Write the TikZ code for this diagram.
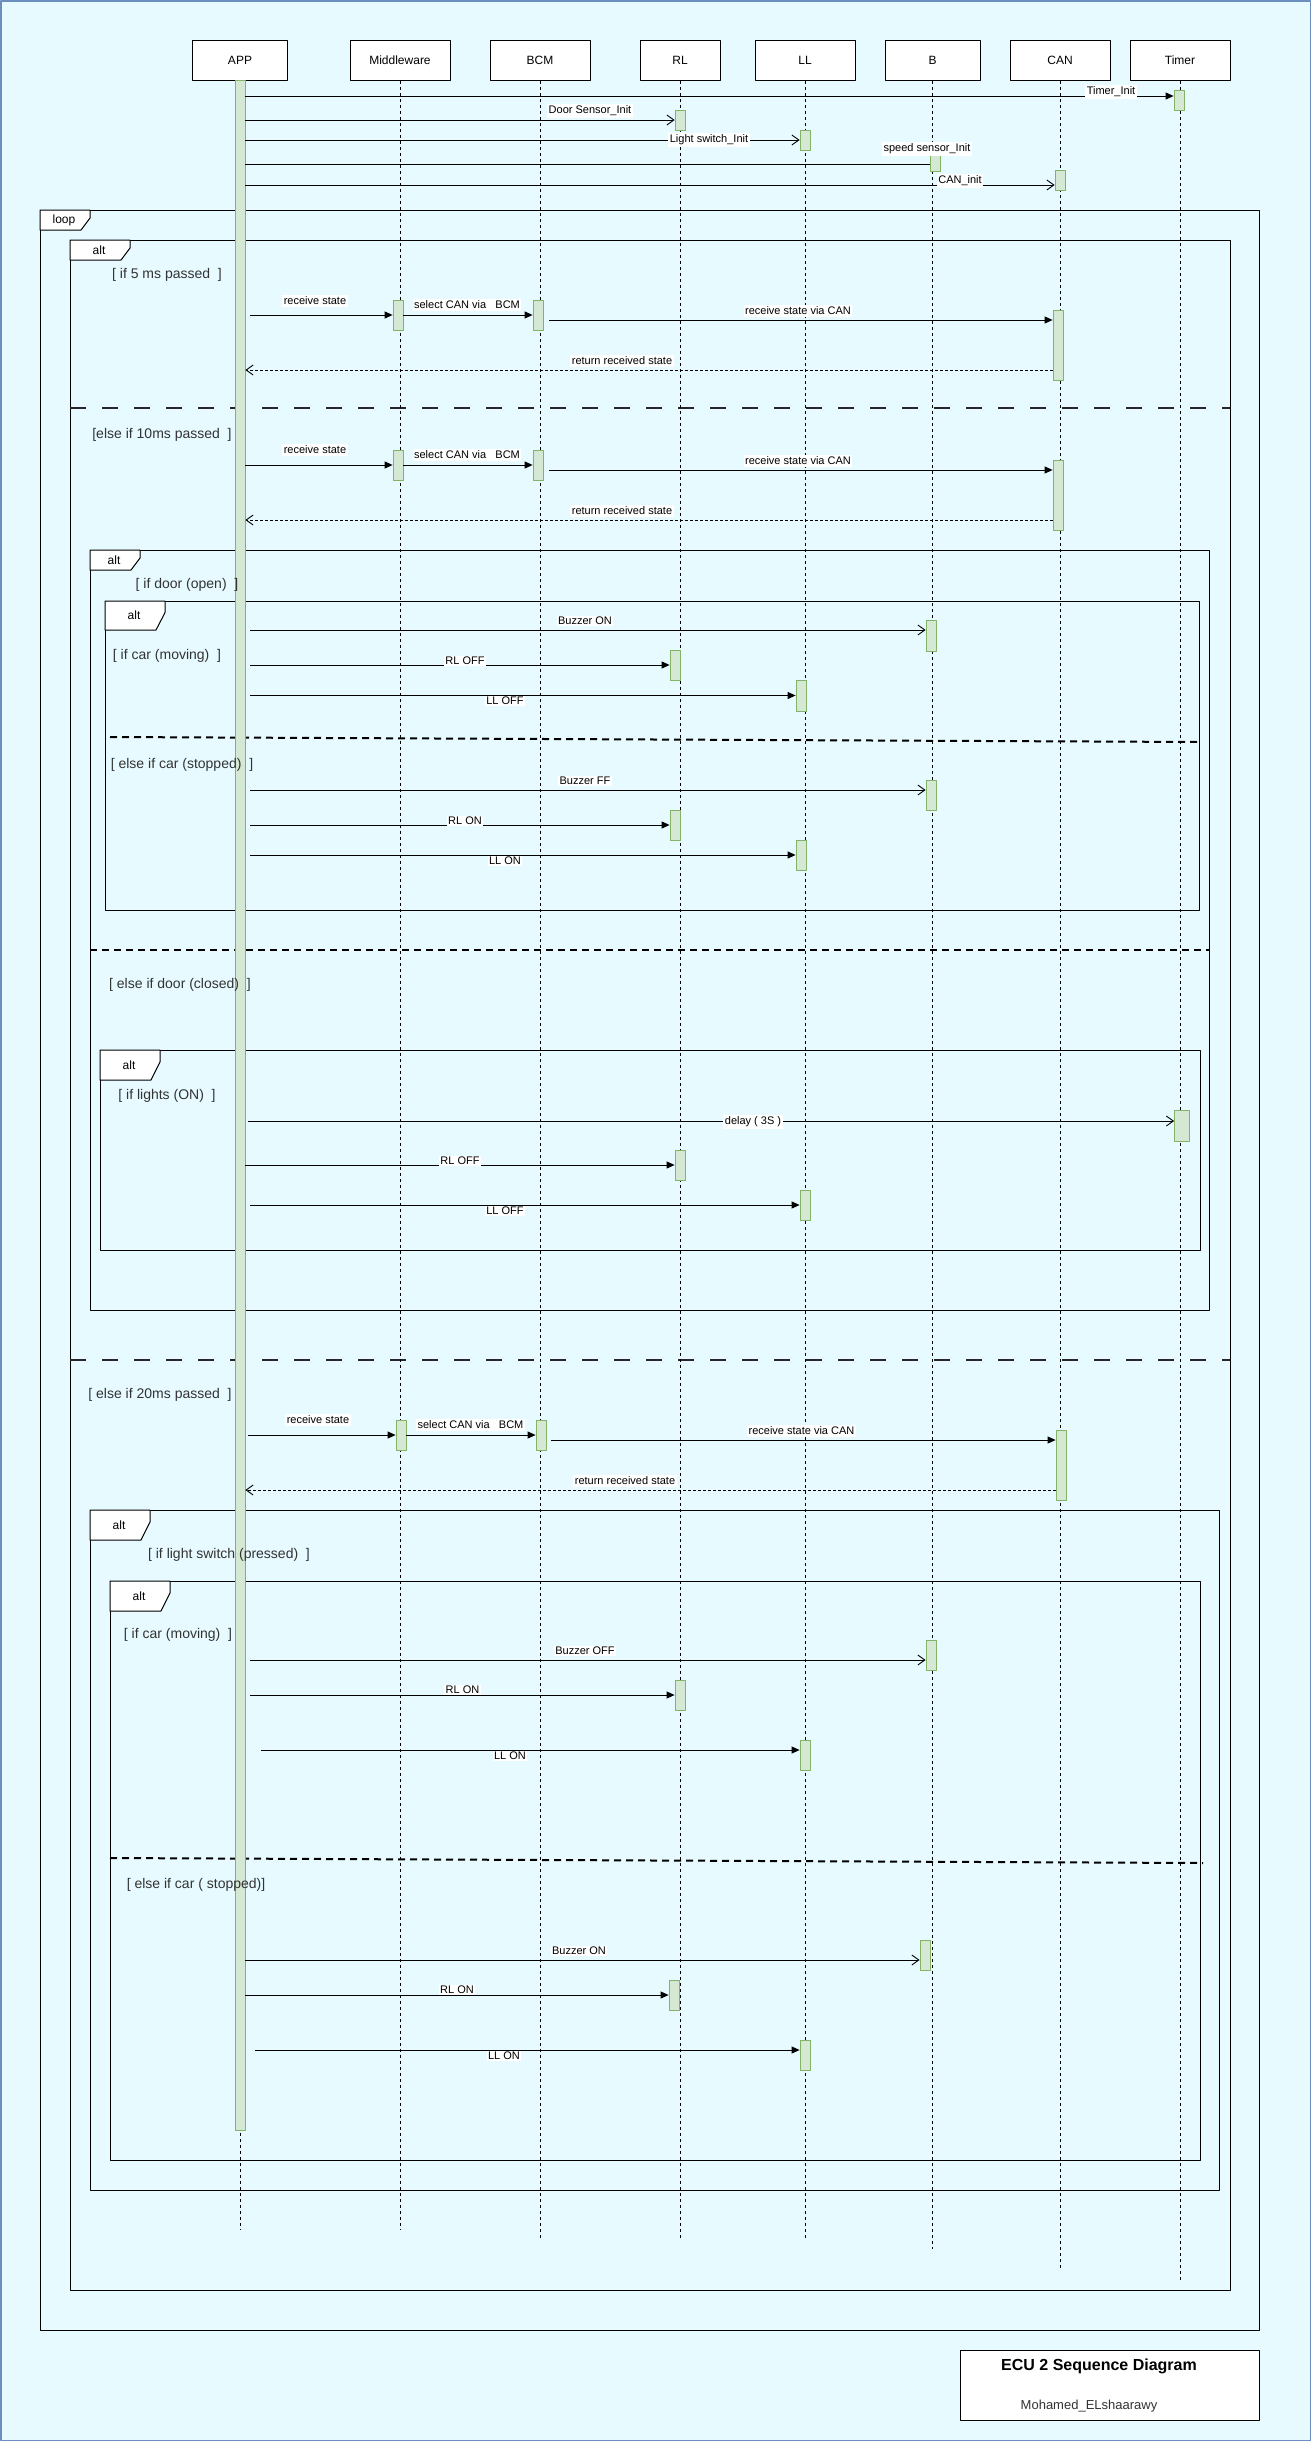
\documentclass[tikz,border=0pt]{standalone}
\usepackage{fontspec}
\setmainfont{Liberation Sans}
\usetikzlibrary{arrows.meta}

\definecolor{bgcyan}{RGB}{230,250,255}
\definecolor{bgedge}{RGB}{108,142,191}
\definecolor{actfill}{RGB}{213,232,212}
\definecolor{actedge}{RGB}{130,179,102}
\definecolor{grdtext}{RGB}{51,51,51}

\begin{document}
\begin{tikzpicture}[
        x=1pt, y=-1pt,
        line join=round,
        part/.style={draw, fill=white, line width=1pt, minimum height=40pt, inner sep=0pt, font=\fontsize{12}{14}\selectfont},
        life/.style={line width=0.8pt, dash pattern=on 3pt off 3pt},
        act/.style={draw=actedge, fill=actfill, line width=0.8pt, minimum width=10pt, inner sep=0pt},
        msg/.style={line width=0.9pt, -{Triangle[length=8pt,width=7pt]}},
        omsg/.style={line width=0.9pt, -{Straight Barb[length=7pt,width=10pt]}},
        ret/.style={line width=0.9pt, dash pattern=on 3pt off 2pt, -{Straight Barb[length=7pt,width=10pt]}},
        lbl/.style={fill=white, inner sep=1.5pt, font=\fontsize{11}{13}\selectfont},
        grd/.style={text=grdtext, inner sep=0pt, font=\fontsize{14}{16}\selectfont},
        frm/.style={line width=1pt},
        bigsep/.style={line width=2.5pt, dash pattern=on 16pt off 16pt, black!85},
        smallsep/.style={line width=2pt, dash pattern=on 7pt off 5pt}
    ]
        % page
        \fill[bgcyan] (0,0) rectangle (1311,2441);
        \draw[bgedge, line width=1.5pt] (0.75,0.75) rectangle (1310.25,2440.25);
        \useasboundingbox (0,0) rectangle (1311,2441);

        % participants
        \foreach \n/\ft/\x/\w/\e in {app/APP/240/95/2230, mw/Middleware/400/100/2230, bcm/BCM/540/100/2238, rl/RL/680/80/2238, ll/LL/805/100/2238, bz/B/932.5/95/2249, can/CAN/1060/100/2268, tmr/Timer/1180/100/2280}{
            \node[part, minimum width=\w pt] (\n) at (\x,60) {\ft};
            \coordinate (\n e) at (\x,\e);
        }

        % frames
        \foreach \xa/\ya/\xb/\yb/\tw/\fh/\ft [count=\i] in {40/210/1259/2330/50/20/loop, 70/240/1230/2290/60/20/alt, 90/550/1209/1310/50/20/alt, 105/601/1199/910/60/29/alt, 100/1050/1200/1250/60/30/alt, 90/1510/1219/2190/60/30/alt, 110/1581/1200/2160/60/30/alt}{
            \draw[frm] (\xa,\ya) rectangle (\xb,\yb);
            \draw[frm, fill=white] (\xa,\ya) -- ++(\tw,0) -- ++(0,0.4*\fh) -- ++(-9,0.6*\fh) -- (\xa,\ya+\fh) -- cycle;
            \node[font=\fontsize{12}{14}\selectfont] (tab\i) at (\xa+\tw/2-1,\ya+\fh/2) {\ft};
        }

        \draw[bigsep] (70,408) -- (1230,408);
        \draw[bigsep] (70,1360) -- (1230,1360);
        \draw[smallsep] (110,737) -- (1201,742);
        \draw[smallsep] (90,950) -- (1209,950);
        \draw[smallsep] (110,1858) -- (1203,1863);

        % lifelines
        \foreach \n in {app,mw,bcm,rl,ll,bz,can,tmr}{
            \draw[life] (\n.south) -- (\n e);
        }

        % activations
        \node[act, minimum height=2050pt] (bar) at (240,1105) {};
        \foreach \n/\x/\y/\h in {t0/1179/100/20, rl0/680/120/20, ll0/805/140/20, b0/935/160.5/21, can0/1060/180.5/20,
            mw1/398/315/30, bcm1/538/315/30, can1/1058/345/70, mw2/398/465/30, bcm2/538/465/30, can2/1058/495/70,
            b1/931/635.5/31, rl1/675/665/30, ll1/801/695.5/31, b2/931/795/30, rl2/675/825/30, ll2/801/855/30,
            rl3/680/1165/30, ll3/805/1205/30, mw3/401/1435/30, bcm3/541/1435/30, can3/1061/1465/70,
            b3/931/1655/30, rl4/680/1695/30, ll4/805/1755/30, b4/925/1955/30, rl5/674/1995/30, ll5/805/2055/30}{
            \node[act, minimum height=\h pt] (\n) at (\x,\y) {};
        }
        \node[act, minimum width=15pt, minimum height=31pt] (t1) at (1182,1125.5) {};

        % init
        \draw[msg] (bar.east |- 0,96) -- (t0.west |- 0,96) node[lbl] (lb1) at (1111,92) {Timer\_Init};
        \draw[omsg] (bar.east |- rl0) -- (rl0.west) node[lbl] (lb2) at (590,111) {Door Sensor\_Init};
        \draw[omsg] (bar.east |- ll0) -- (ll0.west) node[lbl] (lb3) at (709,140) {Light switch\_Init};
        \draw[line width=0.9pt] (bar.east |- 0,164) -- (b0.west |- 0,164) node[lbl] (lb4) at (927,149) {speed sensor\_Init};
        \draw[omsg] (bar.east |- 0,185) -- (can0.west |- 0,185) node[lbl] (lb5) at (960,181) {CAN\_init};

        % 5 ms
        \node[grd] (g1) at (167,275) {[ if 5 ms passed\ \ ]};
        \draw[msg] (bar.east |- mw1) ++(5,0) -- (mw1.west) node[lbl] (lb6) at (315,301) {receive state};
        \draw[msg] (mw1.east) -- (bcm1.west) node[lbl] (lb7) at (467,305) {select CAN via\ \ \ BCM};
        \draw[msg] (bcm1.east |- 0,320) ++(6,0) -- (can1.west |- 0,320) node[lbl] (lb8) at (798,311) {receive state via CAN};
        \draw[ret] (can1.west |- 0,370) -- (bar.east |- 0,370) node[lbl] (lb9) at (622,361) {return received state};

        % 10 ms
        \node[grd] (g2) at (162,435) {[else if 10ms passed\ \ ]};
        \draw[msg] (bar.east |- mw2) -- (mw2.west) node[lbl] (lb10) at (315,450) {receive state};
        \draw[msg] (mw2.east) -- (bcm2.west) node[lbl] (lb11) at (467,455) {select CAN via\ \ \ BCM};
        \draw[msg] (bcm2.east |- 0,470) ++(6,0) -- (can2.west |- 0,470) node[lbl] (lb12) at (798,461) {receive state via CAN};
        \draw[ret] (can2.west |- 0,520) -- (bar.east |- 0,520) node[lbl] (lb13) at (622,511) {return received state};

        \node[grd] (g3) at (187,585) {[ if door (open)\ \ ]};
        \node[grd] (g4) at (167,656) {[ if car (moving)\ \ ]};
        \draw[omsg] (bar.east |- 0,630) ++(5,0) -- (b1.west |- 0,630) node[lbl] (lb14) at (585,621) {Buzzer ON};
        \draw[msg] (bar.east |- rl1) ++(5,0) -- (rl1.west) node[lbl] (lb15) at (465,661) {RL OFF};
        \draw[msg] (bar.east |- ll1) ++(5,0) -- (ll1.west) node[lbl] (lb16) at (505,701) {LL OFF};

        \node[grd] (g5) at (182,765) {[ else if car (stopped)\ \ ]};
        \draw[omsg] (bar.east |- 0,790) ++(5,0) -- (b2.west |- 0,790) node[lbl] (lb17) at (585,781) {Buzzer FF};
        \draw[msg] (bar.east |- rl2) ++(5,0) -- (rl2.west) node[lbl] (lb18) at (465,821) {RL ON};
        \draw[msg] (bar.east |- ll2) ++(5,0) -- (ll2.west) node[lbl] (lb19) at (505,861) {LL ON};

        \node[grd] (g6) at (180,985) {[ else if door (closed)\ \ ]};
        \node[grd] (g7) at (167,1096) {[ if lights (ON)\ \ ]};
        \draw[omsg] (bar.east |- 0,1121) ++(3,0) -- (t1.west |- 0,1121) node[lbl] (lb20) at (753,1122) {delay ( 3S )};
        \draw[msg] (bar.east |- rl3) -- (rl3.west) node[lbl] (lb21) at (460,1161) {RL OFF};
        \draw[msg] (bar.east |- ll3) ++(5,0) -- (ll3.west) node[lbl] (lb22) at (505,1211) {LL OFF};

        % 20 ms
        \node[grd] (g8) at (160,1395) {[ else if 20ms passed\ \ ]};
        \draw[msg] (bar.east |- mw3) ++(3,0) -- (mw3.west) node[lbl] (lb23) at (318,1420) {receive state};
        \draw[msg] (mw3.east) -- (bcm3.west) node[lbl] (lb24) at (470.5,1425) {select CAN via\ \ \ BCM};
        \draw[msg] (bcm3.east |- 0,1440) ++(5,0) -- (can3.west |- 0,1440) node[lbl] (lb25) at (801.5,1431) {receive state via CAN};
        \draw[ret] (can3.west |- 0,1490) -- (bar.east |- 0,1490) node[lbl] (lb26) at (625,1481) {return received state};

        \node[grd] (g9) at (229,1555) {[ if light switch (pressed)\ \ ]};
        \node[grd] (g10) at (178,1635) {[ if car (moving)\ \ ]};
        \draw[omsg] (bar.east |- 0,1660) ++(5,0) -- (b3.west |- 0,1660) node[lbl] (lb27) at (585,1651) {Buzzer OFF};
        \draw[msg] (bar.east |- rl4) ++(5,0) -- (rl4.west) node[lbl] (lb28) at (462.5,1690) {RL ON};
        \draw[msg] (bar.east |- 0,1750) ++(16,0) -- (ll4.west |- 0,1750) node[lbl] (lb29) at (510,1756) {LL ON};

        \node[grd] (g11) at (196,1885) {[ else if car ( stopped)]};
        \draw[omsg] (bar.east |- 0,1960) -- (b4.west |- 0,1960) node[lbl] (lb30) at (579,1951) {Buzzer ON};
        \draw[msg] (bar.east |- rl5) -- (rl5.west) node[lbl] (lb31) at (457,1990) {RL ON};
        \draw[msg] (bar.east |- 0,2050) ++(10,0) -- (ll5.west |- 0,2050) node[lbl] (lb32) at (504,2056) {LL ON};

        % title
        \node[draw, fill=white, line width=1pt, minimum width=299pt, minimum height=70pt] (ttl) at (1109.5,2385) {};
        \node[font=\bfseries\fontsize{16}{18}\selectfont] (ttlname) at (1099,2366) {ECU 2 Sequence Diagram};
        \node[text=grdtext, font=\fontsize{13}{15}\selectfont] (ttlauth) at (1089,2406) {Mohamed\_ELshaarawy};
    \end{tikzpicture}
\end{document}
